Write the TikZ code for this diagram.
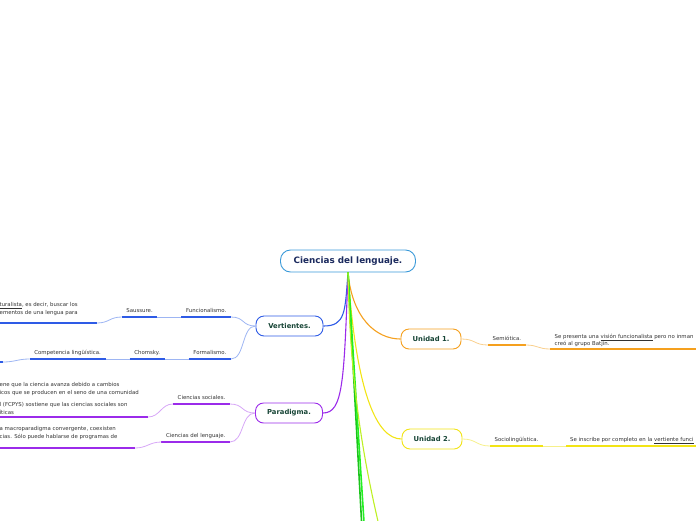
\documentclass[tikz,border=0pt]{standalone}
\usepackage{fontspec}
\setmainfont{DejaVu Sans}
\usepackage{xcolor}
\usetikzlibrary{positioning}
\definecolor{rootline}{HTML}{3B9AD9}
\definecolor{roottext}{HTML}{1B2A5E}
\definecolor{nodetext}{HTML}{174536}
\definecolor{leaftext}{HTML}{333333}
\definecolor{vblue}{HTML}{2E5BE6}
\definecolor{vbluelt}{HTML}{9DB5F3}
\definecolor{ppurple}{HTML}{9B2BEA}
\definecolor{ppurplelt}{HTML}{D7A7F7}
\definecolor{uorange}{HTML}{F5A01E}
\definecolor{uorangelt}{HTML}{F9D08E}
\definecolor{uyellow}{HTML}{F2E415}
\definecolor{uyellowlt}{HTML}{F6F08A}
\definecolor{ugreen}{HTML}{22F022}
\definecolor{ugreendk}{HTML}{1CC41C}
\definecolor{ulime}{HTML}{BDF024}

\begin{document}
\begin{tikzpicture}[
    x=1pt, y=-1pt,
    node distance=24pt,
    root/.style={draw=rootline, line width=0.9pt, fill=white, rounded corners=10pt, minimum width=135pt, minimum height=22pt, font=\fontsize{8.8}{10}\selectfont\bfseries, text=roottext},
    branch/.style={draw=#1, line width=0.9pt, fill=white, rounded corners=8pt, minimum width=67pt, minimum height=20pt, font=\fontsize{6.8}{8}\selectfont\bfseries, text=nodetext},
    sub/.style={font=\fontsize{5.4}{6}\selectfont, text=leaftext, inner xsep=4.5pt, inner ysep=3.5pt, text height=4pt, text depth=1pt},
    leaf/.style={font=\fontsize{5.4}{7.8}\selectfont, text=leaftext, inner sep=0pt, align=left, anchor=north west},
    trunk/.style={draw=#1, line width=1.1pt},
    hard/.style={draw=#1, line width=1.5pt},
    soft/.style={draw=#1, line width=0.8pt}
]
    \useasboundingbox (0,0) rectangle (696,520);

    % Central topic and main branches
    \node[root] (cen) at (348,261) {Ciencias del lenguaje.};
    \node[branch=vblue] (vert) at (289.5,326) {Vertientes.};
    \node[branch=ppurple] (para) at (289,413) {Paradigma.};
    \node[branch=uorange, minimum width=60pt] (uni1) at (431,339) {Unidad 1.};
    \node[branch=uyellow, minimum width=60pt] (uni2) at (432,439) {Unidad 2.};

    % Vertientes
    \node[sub, anchor=south east] (func) at (231,317) {Funcionalismo.};
    \node[sub, left=of func.south west, anchor=south east] (saus) {Saussure.};
    \node[sub, anchor=south east] (form) at (231,359) {Formalismo.};
    \node[sub, left=of form.south west, anchor=south east] (chom) {Chomsky.};
    \node[sub, left=of chom.south west, anchor=south east] (comp) {Competencia lingüística.};
    \node[leaf] (vleaf) at (-0.5,302.5) {\underline{turalista}, es decir, buscar los\\ementos de una lengua para};
    \coordinate (vleafend) at (97,323);
    \coordinate (compend) at (3,362);

    % Paradigma
    \node[sub, anchor=south east] (soc) at (230,404) {Ciencias sociales.};
    \node[sub, anchor=south east] (leng) at (230,442) {Ciencias del lenguaje.};
    \node[leaf] (socleaf) at (-0.5,382.5) {ene que la ciencia avanza debido a cambios\\icos que se producen en el seno de una comunidad\\[4.5pt]l (FCPYS) sostiene que las ciencias sociales son\\íticas};
    \node[leaf] (lengleaf) at (-0.5,426) {a macroparadigma convergente, coexisten\\cias. Sólo puede hablarse de programas de};
    \coordinate (socleafend) at (148,417);
    \coordinate (lengleafend) at (135,448);

    % Unidad 1 and Unidad 2
    \node[sub, anchor=south west] (semi) at (488,345) {Semiótica.};
    \node[sub, anchor=south west] (soci) at (490,446) {Sociolingüística.};
    \node[leaf, font=\fontsize{5.4}{6.8}\selectfont] (semileaf) at (554.5,334) {Se presenta una \underline{visión funcionalista} pero no inman\\creó al grupo Batjín.};
    \node[leaf] (socileaf) at (570,437) {Se inscribe por completo en la \underline{vertiente funci}};
    \coordinate (semileafend) at (550,349);
    \coordinate (socileafend) at (566,446);

    % Branches leaving the picture
    \coordinate (grn1) at (362,530);
    \coordinate (grn2) at (364.5,530);
    \coordinate (lime) at (380,530);

    % Main connectors
    \draw[trunk=vblue] (cen.south) .. controls +(-3,40) and +(22,0) .. (vert.east);
    \draw[trunk=ppurple] (cen.south) .. controls +(-4,110) and +(20,0) .. (para.east);
    \draw[trunk=uorange] (cen.south) .. controls +(4,45) and +(-25,0) .. (uni1.west);
    \draw[trunk=uyellow] (cen.south) .. controls +(8,120) and +(-25,0) .. (uni2.west);
    \draw[trunk=ugreendk, line width=1.6pt] (cen.south) -- (grn1);
    \draw[trunk=ugreen, line width=1.6pt] (cen.south) -- (grn2);
    \draw[trunk=ulime] (cen.south) .. controls +(2,120) and +(-14,-60) .. (lime);

    % Underlines
    \foreach \n/\c in {func/vblue, saus/vblue, form/vblue, chom/vblue, comp/vblue, soc/ppurple, leng/ppurple, semi/uorange, soci/uyellow}
        \draw[hard=\c] (\n.south west) -- (\n.south east);
    \draw[hard=vblue] (vleafend) -- ++(-110,0);
    \draw[hard=vblue] (compend) -- ++(-10,0);
    \draw[hard=ppurple] (socleafend) -- ++(-160,0);
    \draw[hard=ppurple] (lengleafend) -- ++(-150,0);
    \draw[hard=uorange] (semileafend) -- ++(160,0);
    \draw[hard=uyellow] (socileafend) -- ++(140,0);

    % Thin connectors
    \draw[soft=vbluelt] (vert.west) .. controls +(-14,0) and +(14,0) .. (func.south east);
    \draw[soft=vbluelt] (vert.west) .. controls +(-14,0) and +(14,0) .. (form.south east);
    \draw[soft=vbluelt] (func.south west) -- (saus.south east);
    \draw[soft=vbluelt] (form.south west) -- (chom.south east);
    \draw[soft=vbluelt] (chom.south west) -- (comp.south east);
    \draw[soft=vbluelt] (saus.south west) .. controls +(-12,0) and +(12,0) .. (vleafend);
    \draw[soft=vbluelt] (comp.south west) .. controls +(-12,0) and +(12,0) .. (compend);
    \draw[soft=ppurplelt] (para.west) .. controls +(-14,0) and +(14,0) .. (soc.south east);
    \draw[soft=ppurplelt] (para.west) .. controls +(-14,0) and +(14,0) .. (leng.south east);
    \draw[soft=ppurplelt] (soc.south west) .. controls +(-12,0) and +(12,0) .. (socleafend);
    \draw[soft=ppurplelt] (leng.south west) .. controls +(-12,0) and +(12,0) .. (lengleafend);
    \draw[soft=uorangelt] (uni1.east) .. controls +(14,0) and +(-14,0) .. (semi.south west);
    \draw[soft=uorangelt] (semi.south east) .. controls +(12,0) and +(-12,0) .. (semileafend);
    \draw[soft=uyellowlt] (uni2.east) .. controls +(14,0) and +(-14,0) .. (soci.south west);
    \draw[soft=uyellowlt] (soci.south east) .. controls +(12,0) and +(-12,0) .. (socileafend);
\end{tikzpicture}
\end{document}
